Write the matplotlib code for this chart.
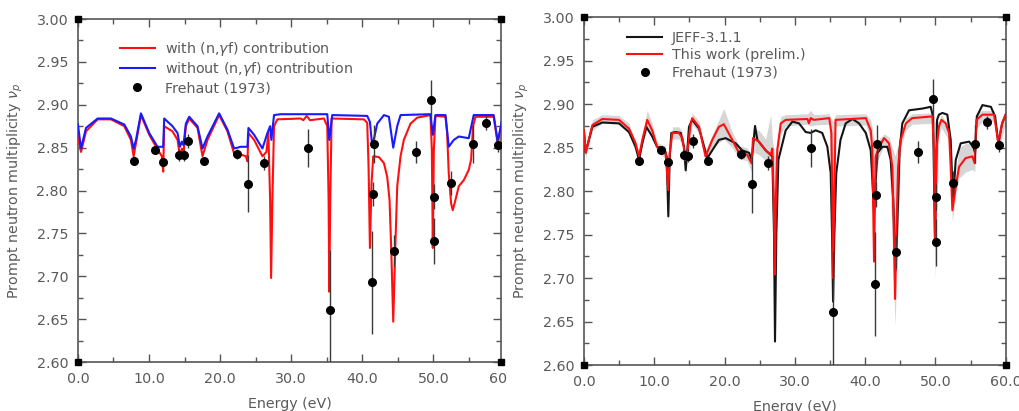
import numpy as np
import matplotlib
matplotlib.use("Agg")
import matplotlib.pyplot as plt
from matplotlib.lines import Line2D
from matplotlib.legend_handler import HandlerLine2D
from matplotlib.ticker import MultipleLocator, FormatStrFormatter

# ---------------- data ----------------
# Frehaut (1973) measurement
freh_E = [7.83, 10.9, 12.0, 14.28, 14.85, 15.47, 17.7, 22.34, 23.96, 26.14, 32.3, 35.44,
          41.37, 41.5, 41.7, 44.45, 47.58, 49.67, 50.05, 50.05, 52.5, 55.6, 57.4, 59.06]
freh_nu = [2.835, 2.847, 2.833, 2.842, 2.841, 2.858, 2.835, 2.843, 2.808, 2.832, 2.850, 2.661,
           2.693, 2.796, 2.854, 2.730, 2.845, 2.906, 2.793, 2.741, 2.809, 2.854, 2.879, 2.853]
freh_err = [0.005, 0.004, 0.005, 0.007, 0.007, 0.008, 0.004, 0.006, 0.033, 0.008, 0.022, 0.07,
            0.06, 0.014, 0.022, 0.018, 0.013, 0.023, 0.015, 0.027, 0.014, 0.022, 0.008, 0.008]

# Left panel: without (n,gamma f) contribution
without_E = [0.0, 0.43, 1.13, 2.77, 4.64, 6.52, 7.45, 7.83, 8.16, 8.86, 10.03, 11.19, 11.99, 12.13,
             13.30, 14.01, 14.34, 14.62, 14.85, 15.18, 15.65, 16.82, 17.52, 18.22, 19.86, 21.03,
             21.97, 22.90, 23.84, 23.98, 24.78, 25.95, 26.65, 27.03, 27.21, 27.58, 28.52, 35.07,
             35.35, 35.77, 40.69, 41.07, 41.40, 42.10, 43.04, 43.74, 44.35, 44.91, 45.38, 49.59,
             49.92, 50.29, 51.70, 52.16, 52.86, 53.57, 54.97, 55.67, 58.48, 59.04, 59.65]
without_nu = [2.877, 2.849, 2.873, 2.884, 2.884, 2.877, 2.863, 2.849, 2.859, 2.890, 2.867, 2.851,
              2.851, 2.884, 2.875, 2.867, 2.851, 2.857, 2.853, 2.878, 2.886, 2.875, 2.849, 2.863,
              2.890, 2.871, 2.849, 2.851, 2.851, 2.873, 2.865, 2.849, 2.867, 2.875, 2.859, 2.888,
              2.889, 2.889, 2.859, 2.888, 2.887, 2.880, 2.851, 2.878, 2.888, 2.886, 2.850, 2.875,
              2.888, 2.889, 2.865, 2.888, 2.888, 2.851, 2.859, 2.863, 2.861, 2.888, 2.888, 2.857,
              2.882]

# Left panel: with (n,gamma f) contribution
with_E = [0.0, 0.43, 1.13, 2.77, 4.64, 6.52, 7.45, 7.83, 8.16, 8.86, 10.03, 11.19, 11.80, 11.99,
          12.13, 13.30, 14.01, 14.34, 14.62, 14.85, 15.18, 15.65, 16.82, 17.52, 18.22, 19.86,
          21.03, 21.97, 22.90, 23.61, 23.84, 23.98, 24.78, 25.95, 26.51, 26.79, 27.03, 27.17,
          27.35, 27.58, 28.05, 31.33, 31.70, 32.17, 32.64, 34.60, 35.07, 35.26, 35.35, 35.49,
          35.68, 40.22, 40.69, 40.88, 41.07, 41.30, 41.54, 42.33, 43.04, 43.50, 43.83, 44.07,
          44.35, 44.63, 44.91, 45.38, 45.84, 46.78, 47.72, 49.59, 49.78, 49.92, 50.06, 50.29,
          51.70, 51.93, 52.16, 52.49, 52.72, 53.10, 53.57, 54.27, 54.97, 55.30, 55.58, 55.91,
          58.48, 59.04, 59.65]
with_nu = [2.863, 2.845, 2.869, 2.883, 2.883, 2.875, 2.859, 2.840, 2.855, 2.888, 2.865, 2.848,
           2.840, 2.822, 2.875, 2.869, 2.859, 2.840, 2.849, 2.843, 2.875, 2.884, 2.873, 2.840,
           2.859, 2.888, 2.869, 2.843, 2.842, 2.840, 2.834, 2.867, 2.859, 2.840, 2.845, 2.867,
           2.789, 2.698, 2.789, 2.875, 2.883, 2.884, 2.882, 2.887, 2.882, 2.884, 2.875, 2.789,
           2.682, 2.789, 2.884, 2.883, 2.879, 2.828, 2.733, 2.809, 2.840, 2.839, 2.832, 2.816,
           2.789, 2.731, 2.647, 2.731, 2.805, 2.840, 2.859, 2.878, 2.885, 2.888, 2.847, 2.733,
           2.847, 2.887, 2.886, 2.867, 2.820, 2.785, 2.777, 2.789, 2.805, 2.812, 2.824, 2.836,
           2.875, 2.886, 2.886, 2.855, 2.880]

# Right panel: this work (prelim.)
work_E = [0.0, 0.24, 1.19, 2.6, 4.98, 6.4, 7.35, 7.83, 8.3, 9.0, 9.7, 10.4, 11.15, 11.6, 12.0,
          12.2, 12.57, 13.5, 14.0, 14.47, 14.7, 15.18, 15.4, 16.37, 17.3, 18.26, 19.2, 19.9,
          21.1, 22.06, 23.2, 23.86, 24.05, 24.9, 25.85, 26.57, 26.8, 27.0, 27.18, 27.3, 27.5,
          28.0, 28.7, 31.8, 32.0, 32.26, 32.7, 34.9, 35.2, 35.34, 35.44, 35.6, 35.8, 40.1,
          40.8, 41.03, 41.27, 41.5, 42.0, 42.7, 43.4, 43.88, 44.1, 44.26, 44.45, 44.7, 45.07,
          45.8, 46.7, 49.57, 49.8, 49.95, 50.14, 50.5, 50.86, 51.47, 51.95, 52.18, 52.42, 52.9,
          53.37, 54.3, 55.26, 55.6, 55.84, 56.7, 58.35, 58.96, 59.5, 60.0]
work_nu = [2.870, 2.844, 2.876, 2.883, 2.882, 2.872, 2.855, 2.840, 2.859, 2.882, 2.870, 2.851,
           2.849, 2.845, 2.801, 2.844, 2.867, 2.867, 2.861, 2.836, 2.844, 2.878, 2.884, 2.874,
           2.840, 2.859, 2.874, 2.877, 2.859, 2.844, 2.842, 2.832, 2.861, 2.857, 2.847, 2.842,
           2.849, 2.790, 2.704, 2.790, 2.847, 2.878, 2.882, 2.883, 2.878, 2.884, 2.882, 2.884,
           2.867, 2.790, 2.700, 2.790, 2.882, 2.884, 2.870, 2.847, 2.719, 2.840, 2.851, 2.861,
           2.855, 2.828, 2.751, 2.676, 2.751, 2.828, 2.859, 2.878, 2.884, 2.886, 2.847, 2.739,
           2.847, 2.874, 2.882, 2.878, 2.867, 2.828, 2.778, 2.805, 2.828, 2.838, 2.840, 2.832,
           2.882, 2.888, 2.888, 2.855, 2.878, 2.888]

# Right panel: JEFF-3.1.1
jeff_E = [0.0, 0.24, 1.19, 2.6, 4.98, 6.4, 7.35, 7.83, 8.3, 8.87, 9.7, 10.4, 11.4, 11.76, 12.0,
          12.2, 12.43, 13.05, 13.76, 14.23, 14.47, 14.7, 14.94, 15.4, 16.37, 17.55, 18.26, 19.2,
          20.16, 21.58, 22.5, 23.5, 23.86, 24.15, 24.34, 24.67, 25.85, 26.8, 27.04, 27.18, 27.37,
          27.66, 28.0, 28.7, 29.65, 30.6, 31.55, 32.26, 32.97, 33.9, 34.63, 35.1, 35.3, 35.44,
          35.63, 35.9, 36.5, 37.24, 38.2, 39.14, 40.1, 40.8, 41.27, 41.75, 42.46, 43.17, 43.64,
          44.0, 44.35, 44.7, 44.9, 45.3, 46.25, 48.15, 49.33, 49.67, 49.95, 50.24, 50.5, 51.0,
          51.7, 52.18, 52.5, 52.9, 53.6, 54.8, 55.4, 55.65, 55.9, 56.7, 57.9, 58.5, 58.96, 59.5,
          60.0]
jeff_nu = [2.867, 2.845, 2.874, 2.879, 2.878, 2.868, 2.851, 2.836, 2.855, 2.874, 2.863, 2.851,
           2.849, 2.840, 2.771, 2.840, 2.867, 2.868, 2.867, 2.851, 2.824, 2.847, 2.874, 2.882,
           2.872, 2.838, 2.847, 2.859, 2.861, 2.855, 2.847, 2.844, 2.836, 2.859, 2.875, 2.859,
           2.847, 2.840, 2.751, 2.627, 2.751, 2.836, 2.847, 2.870, 2.880, 2.878, 2.868, 2.867,
           2.870, 2.867, 2.851, 2.821, 2.751, 2.673, 2.751, 2.821, 2.859, 2.878, 2.883, 2.878,
           2.867, 2.847, 2.778, 2.844, 2.851, 2.851, 2.836, 2.790, 2.709, 2.790, 2.847, 2.878,
           2.893, 2.895, 2.897, 2.886, 2.740, 2.882, 2.888, 2.890, 2.888, 2.859, 2.788, 2.836,
           2.855, 2.857, 2.851, 2.844, 2.886, 2.899, 2.897, 2.886, 2.855, 2.878, 2.888]

# Right panel: uncertainty band of this work
band_E = [0.0, 0.24, 1.2, 2.6, 5.0, 6.4, 7.8, 8.3, 9.0, 9.7, 10.4, 11.6, 12.0, 12.2, 12.6, 13.5,
          14.0, 14.47, 14.7, 15.4, 16.4, 17.3, 18.3, 19.9, 21.1, 22.1, 23.2, 23.86, 24.05, 24.9,
          25.85, 26.57, 26.8, 27.18, 27.5, 28.0, 28.7, 31.8, 32.26, 32.7, 34.9, 35.44, 35.8,
          40.1, 40.8, 41.27, 41.5, 42.7, 43.4, 44.26, 45.07, 45.8, 46.7, 49.57, 49.95, 50.5,
          50.86, 51.95, 52.42, 52.9, 53.37, 54.3, 55.26, 55.6, 55.84, 56.7, 58.35, 58.96, 60.0]
band_lo = [2.860, 2.838, 2.870, 2.878, 2.877, 2.866, 2.833, 2.853, 2.872, 2.862, 2.845, 2.838,
           2.765, 2.836, 2.860, 2.860, 2.853, 2.818, 2.836, 2.877, 2.866, 2.832, 2.850, 2.860,
           2.850, 2.837, 2.835, 2.822, 2.845, 2.842, 2.835, 2.832, 2.838, 2.690, 2.835, 2.866,
           2.875, 2.877, 2.875, 2.876, 2.877, 2.690, 2.875, 2.876, 2.860, 2.710, 2.830, 2.852,
           2.845, 2.645, 2.850, 2.870, 2.877, 2.878, 2.700, 2.865, 2.873, 2.858, 2.765, 2.795,
           2.815, 2.822, 2.825, 2.822, 2.872, 2.880, 2.880, 2.846, 2.878]
band_hi = [2.878, 2.852, 2.882, 2.888, 2.887, 2.878, 2.846, 2.866, 2.893, 2.878, 2.856, 2.852,
           2.828, 2.852, 2.874, 2.874, 2.868, 2.842, 2.852, 2.890, 2.880, 2.847, 2.866, 2.895,
           2.868, 2.852, 2.850, 2.842, 2.872, 2.870, 2.860, 2.888, 2.860, 2.840, 2.860, 2.886,
           2.888, 2.889, 2.893, 2.888, 2.889, 2.880, 2.888, 2.889, 2.882, 2.860, 2.855, 2.866,
           2.862, 2.840, 2.866, 2.884, 2.889, 2.890, 2.880, 2.880, 2.888, 2.874, 2.795, 2.820,
           2.850, 2.855, 2.855, 2.842, 2.890, 2.893, 2.893, 2.862, 2.893]

x_ticks = [0, 10, 20, 30, 40, 50, 60]
y_ticks = [2.60, 2.65, 2.70, 2.75, 2.80, 2.85, 2.90, 2.95, 3.00]

# ---------------- style ----------------
TXT = "#5a5a5a"
AX = "#555555"
FS = 10.3
plt.rcParams["font.family"] = ["DejaVu Sans"]
plt.rcParams["mathtext.fontset"] = "dejavusans"


class HandlerDotRight(HandlerLine2D):
    def get_xdata(self, legend, xdescent, ydescent, width, height, fontsize):
        xdata = np.array([-xdescent, -xdescent + width])
        xdata_marker = np.array([-xdescent + width])
        return xdata, xdata_marker


fig = plt.figure(figsize=(10.19, 4.11), dpi=100)
axL = fig.add_axes([0.0765, 0.1192, 0.4151, 0.8345])
axR = fig.add_axes([0.5731, 0.1119, 0.4138, 0.8460])


def style(ax, xmax):
    ax.set_xlim(0, xmax)
    ax.set_ylim(2.60, 3.00)
    ax.set_xticks([t for t in x_ticks if t <= xmax])
    ax.set_yticks(y_ticks)
    ax.xaxis.set_major_formatter(FormatStrFormatter("%.1f"))
    ax.yaxis.set_major_formatter(FormatStrFormatter("%.2f"))
    ax.xaxis.set_minor_locator(MultipleLocator(5))
    ax.yaxis.set_minor_locator(MultipleLocator(0.025))
    ax.tick_params(which="both", direction="in", top=True, right=True, colors=AX,
                   labelcolor=TXT, labelsize=FS, width=1.0, pad=7)
    ax.tick_params(which="major", length=6)
    ax.tick_params(which="minor", length=3.5)
    for s in ax.spines.values():
        s.set_color(AX)
        s.set_linewidth(1.2)
    ax.set_xlabel("Energy (eV)", color=TXT, fontsize=FS, labelpad=8)
    ax.set_ylabel(r"Prompt neutron multiplicity $\nu_{p}$", color=TXT, fontsize=FS, labelpad=8)
    ax.plot([0, 1, 0, 1], [0, 0, 1, 1], "s", color="k", ms=5, transform=ax.transAxes,
            clip_on=False, zorder=10)


def frehaut(ax):
    ax.errorbar(freh_E, freh_nu, yerr=freh_err, fmt="o", color="k", ms=5.5,
                ecolor="#3a3a3a", elinewidth=1.0, capsize=0, zorder=6)


# left panel
style(axL, 59.5)
axL.plot(with_E, with_nu, color="#ff1010", lw=1.5, zorder=3)
axL.plot(without_E, without_nu, color="#1a1aff", lw=1.5, zorder=4)
frehaut(axL)
axL.annotate("60", xy=(60, 0), xycoords=("data", "axes fraction"), xytext=(-11.5, -7),
             textcoords="offset points", ha="left", va="top", color=TXT, fontsize=FS,
             annotation_clip=False)
hL = [Line2D([], [], color="#ff1010", lw=1.5), Line2D([], [], color="#1a1aff", lw=1.5),
      Line2D([], [], ls="none", marker="o", color="k", ms=5.5)]
legL = axL.legend(hL, [r"with (n,$\gamma$f) contribution", r"without (n,$\gamma$f) contribution",
                       "Frehaut (1973)"],
                  loc="upper left", bbox_to_anchor=(0.099, 0.94), frameon=False, fontsize=FS,
                  handlelength=2.45, handletextpad=0.7, labelspacing=0.2, borderpad=0,
                  borderaxespad=0, handler_map={hL[2]: HandlerDotRight()})
for t in legL.get_texts():
    t.set_color(TXT)

# right panel
style(axR, 60)
axR.fill_between(band_E, band_lo, band_hi, color="#d6d6d6", lw=0, zorder=2)
axR.plot(jeff_E, jeff_nu, color="#141414", lw=1.5, zorder=3)
axR.plot(work_E, work_nu, color="#ff1010", lw=1.5, zorder=4)
frehaut(axR)
hR = [Line2D([], [], color="#141414", lw=1.5), Line2D([], [], color="#ff1010", lw=1.5),
      Line2D([], [], ls="none", marker="o", color="k", ms=5.5)]
legR = axR.legend(hR, ["JEFF-3.1.1", "This work (prelim.)", "Frehaut (1973)"],
                  loc="upper left", bbox_to_anchor=(0.102, 0.962), frameon=False, fontsize=FS,
                  handlelength=2.45, handletextpad=0.7, labelspacing=0.25, borderpad=0,
                  borderaxespad=0, handler_map={hR[2]: HandlerDotRight()})
for t in legR.get_texts():
    t.set_color(TXT)

fig.savefig("out.png", dpi=100)
